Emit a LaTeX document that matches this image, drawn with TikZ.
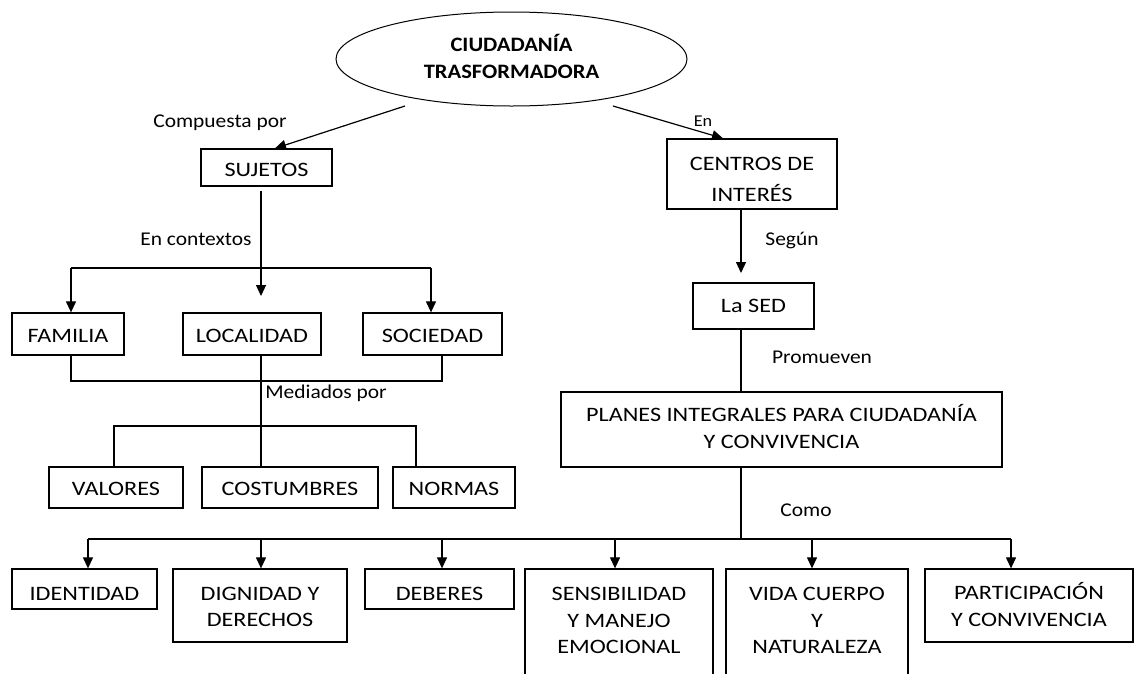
\documentclass[tikz,border=0pt]{standalone}
\usepackage{fontspec}
\setmainfont{Carlito}[FakeStretch=1.18]
\newfontfamily\narfam{Carlito}[FakeStretch=1.1]
\usetikzlibrary{arrows.meta,shapes.geometric}
\newcommand{\bxf}{\fontsize{20.5}{26.3}\selectfont}
\newcommand{\lbf}{\narfam\fontsize{19.5}{24}\selectfont}
\begin{document}
\begin{tikzpicture}[x=1pt,y=-1pt,
  box/.style={draw, line width=1.3pt, inner sep=0pt, align=center, font=\bxf, text depth=0pt},
  lbl/.style={inner sep=0pt, anchor=base, font=\lbf},
  ln/.style={line width=1.2pt},
  arr/.style={line width=1.2pt, -{Triangle[length=11pt,width=10pt]}}]
\fill[white] (0,0) rectangle (1134,673);
\useasboundingbox (0,0) rectangle (1134,673);

\node[draw, ellipse, line width=1pt, minimum width=351pt, minimum height=94pt, inner sep=0pt,
  align=center, font=\narfam\fontsize{20.5}{26.6}\selectfont\bfseries, text height=38.6pt, text depth=0pt]
  (ell) at (511.5,59) {CIUDADANÍA\\TRASFORMADORA};

\node[box, minimum width=131pt, minimum height=37pt, text height=17pt] (suj) at (266.5,167.5) {SUJETOS};
\node[box, minimum width=112pt, minimum height=42pt, text height=16.6pt] (fam) at (68,334) {FAMILIA};
\node[box, minimum width=138pt, minimum height=42pt, text height=16.6pt] (loc) at (252,334) {LOCALIDAD};
\node[box, minimum width=139pt, minimum height=42pt, text height=16.6pt] (soc) at (432.5,334) {SOCIEDAD};
\node[box, minimum width=134pt, minimum height=41pt, text height=15pt] (val) at (116,487.5) {VALORES};
\node[box, minimum width=176pt, minimum height=41pt, text height=15pt] (cos) at (290,487.5) {COSTUMBRES};
\node[box, minimum width=122pt, minimum height=41pt, text height=15pt] (nor) at (454,487.5) {NORMAS};

\node[box, minimum width=170pt, minimum height=70pt, font=\fontsize{20.5}{30.3}\selectfont,
  text height=54pt] (cen) at (752,174) {CENTROS DE\\INTERÉS};
\node[box, minimum width=121pt, minimum height=46pt, text height=13.4pt] (sed) at (753.5,306) {La SED};
\node[box, minimum width=441pt, minimum height=75pt, font=\fontsize{20.5}{26.7}\selectfont,
  text height=37.6pt] (pla) at (781.5,429.5) {PLANES INTEGRALES PARA CIUDADANÍA\\Y CONVIVENCIA};

\node[box, minimum width=145pt, minimum height=40pt, text height=22pt] (ide) at (84.5,589) {IDENTIDAD};
\node[box, minimum width=174pt, minimum height=73pt, text height=42.4pt] (dig) at (260,605.5) {DIGNIDAD Y\\DERECHOS};
\node[box, minimum width=149pt, minimum height=40pt, text height=22pt] (deb) at (439.5,589) {DEBERES};
\node[box, minimum width=188pt, minimum height=130pt, text height=38.6pt] (sen) at (619,634) {SENSIBILIDAD\\Y MANEJO\\EMOCIONAL};
\node[box, minimum width=182pt, minimum height=130pt, text height=38.6pt] (vid) at (817,634) {VIDA CUERPO\\Y\\NATURALEZA};
\node[box, minimum width=208pt, minimum height=73pt, text height=41pt] (par) at (1029,605.5) {PARTICIPACIÓN\\Y CONVIVENCIA};

\node[lbl] (l1) at (220,127) {Compuesta por};
\node[lbl] (l2) at (196,245) {En contextos};
\node[lbl] (l3) at (326,398.3) {Mediados por};
\node[lbl, font=\narfam\fontsize{16.5}{20}\selectfont] (l4) at (703,126) {En};
\node[lbl] (l5) at (792,245) {Según};
\node[lbl] (l6) at (822,363.3) {Promueven};
\node[lbl] (l7) at (806,516) {Como};

\coordinate (e1) at (405,106);
\coordinate (e2) at (613,106);
\draw[arr] (e1) -- ([xshift=8.5pt]suj.north);
\draw[arr] (e2) -- ([xshift=-29pt]cen.north);

\coordinate (sjt) at (261,296);
\draw[arr, shorten <=4pt] (suj.south -| sjt) -- (sjt);
\coordinate (h1) at (71,268);
\coordinate (h2) at (431,268);
\draw[ln] (h1) -- (h2);
\draw[arr] (h1) -- (fam.north -| h1);
\draw[arr] (h2) -- (soc.north -| h2);
\coordinate (m1) at (71,381);
\coordinate (m2) at (442,381);
\draw[ln] (fam.south -| m1) -- (m1) -- (m2) -- (soc.south -| m2);
\coordinate (v1) at (261,400);
\draw[ln] (loc.south -| v1) -- (cos.north -| v1);
\coordinate (n1) at (114,426);
\coordinate (n2) at (416,426);
\draw[ln] (val.north -| n1) -- (n1) -- (n2) -- (nor.north -| n2);

\coordinate (r1) at (741,273);
\draw[arr] (cen.south -| r1) -- (r1);
\draw[ln] (sed.south -| r1) -- (pla.north -| r1);
\coordinate (bus) at (741,539);
\draw[ln] (pla.south -| bus) -- (bus);
\coordinate (b1) at (88,539);
\coordinate (b2) at (261,539);
\coordinate (b3) at (442,539);
\coordinate (b4) at (615,539);
\coordinate (b5) at (812,539);
\coordinate (b6) at (1011,539);
\draw[ln] (b1) -- (b6);
\foreach \b/\n in {b1/ide,b2/dig,b3/deb,b4/sen,b5/vid,b6/par}
  \draw[arr] (\b) -- (\n.north -| \b);
\end{tikzpicture}
\end{document}
